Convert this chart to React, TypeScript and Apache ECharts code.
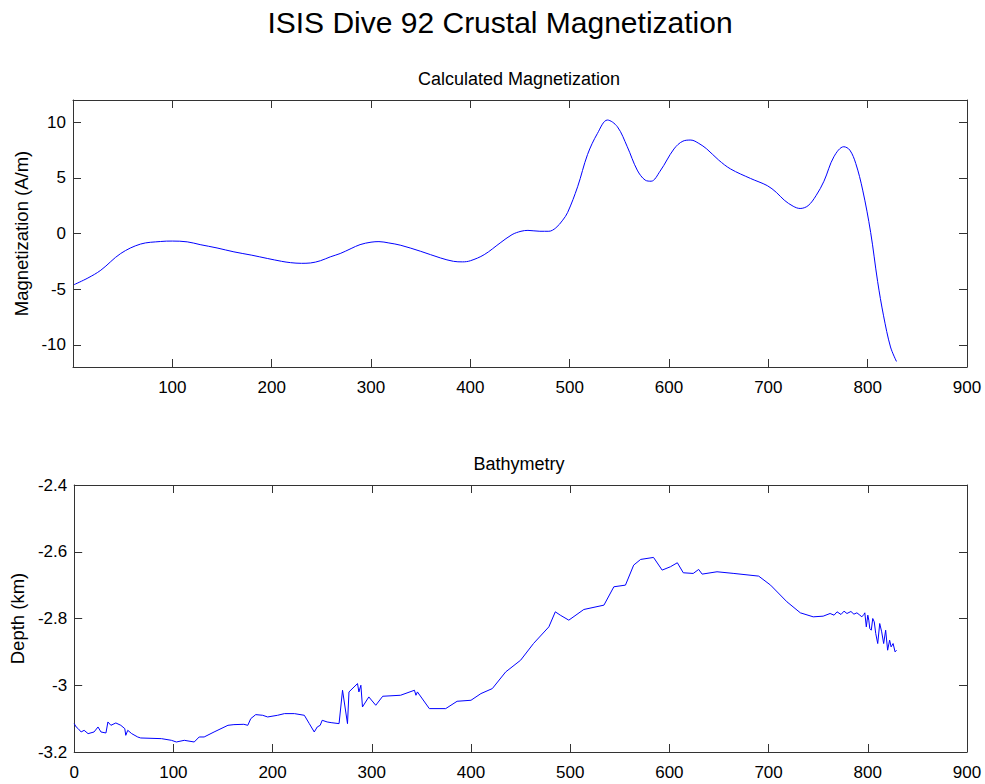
import React, { useEffect, useRef } from "react";
import * as echarts from "echarts";

const mainTitle = "ISIS Dive 92 Crustal Magnetization";
const topTitle = "Calculated Magnetization";
const bottomTitle = "Bathymetry";
const topYLabel = "Magnetization (A/m)";
const bottomYLabel = "Depth (km)";

// Calculated magnetization: distance vs A/m
const magX = [1, 15, 28, 48, 68, 88, 100, 115, 128, 145, 162, 180, 196, 210, 219, 230, 239, 249, 259, 269, 280, 289, 300, 308, 318, 330, 350, 370, 383, 392, 400, 414, 430, 442, 451, 458, 470, 479, 486, 493, 498, 508, 518, 528, 538, 548, 558, 568, 576, 582, 591, 605, 614, 622, 630, 638, 650, 662, 682, 699, 708, 716, 725, 732, 740, 748, 756, 766, 776, 782, 788, 795, 803, 810, 816, 823, 829];
const magY = [-4.6, -4.0, -3.3, -1.8, -0.95, -0.72, -0.68, -0.75, -1.0, -1.3, -1.65, -1.95, -2.25, -2.5, -2.62, -2.68, -2.65, -2.45, -2.1, -1.8, -1.35, -1.0, -0.78, -0.73, -0.85, -1.06, -1.6, -2.2, -2.5, -2.55, -2.45, -1.9, -0.85, -0.1, 0.2, 0.28, 0.2, 0.2, 0.5, 1.2, 1.9, 4.2, 7.1, 9.0, 10.2, 9.6, 7.8, 5.7, 4.8, 4.7, 5.6, 7.6, 8.3, 8.4, 8.1, 7.6, 6.6, 5.8, 4.95, 4.3, 3.7, 3.0, 2.45, 2.25, 2.5, 3.4, 4.7, 6.9, 7.8, 7.5, 6.3, 3.9, 0.1, -4.3, -7.4, -10.2, -11.5];

// Bathymetry: distance vs depth (km)
const bathX = [0, 2, 4, 7, 10, 14, 20, 24, 27, 32, 34, 37, 42, 47, 51, 52, 54, 58, 64, 67, 88, 98, 103, 111, 121, 126, 131, 141, 155, 161, 171, 175, 178, 183, 190, 195, 205, 212, 222, 232, 237, 242, 245, 248, 250, 255, 259, 267, 270.5, 275.5, 277, 285.6, 287, 289, 290.6, 297, 304, 311, 329, 343, 344.5, 346, 358, 374.5, 386, 400, 410, 421.5, 435, 450, 463, 478.5, 485, 490, 498.6, 513.7, 534, 544, 555.7, 564, 571, 584, 592.7, 601, 608, 614, 624, 629.5, 633, 648, 665, 690, 702, 718.5, 732, 745, 755, 762, 766, 769, 773, 776, 779, 783, 786, 789, 792, 794, 796, 797, 798.5, 800, 801, 802, 803.5, 805, 806.5, 808, 810, 812, 814, 816, 818, 820, 822, 823.5, 825.5, 827.5, 829];
const bathY = [-3.115, -3.125, -3.13, -3.14, -3.135, -3.145, -3.14, -3.125, -3.14, -3.143, -3.11, -3.12, -3.113, -3.12, -3.13, -3.15, -3.135, -3.145, -3.155, -3.158, -3.16, -3.165, -3.17, -3.165, -3.17, -3.155, -3.155, -3.14, -3.12, -3.118, -3.117, -3.12, -3.1, -3.088, -3.09, -3.095, -3.09, -3.085, -3.085, -3.09, -3.115, -3.14, -3.125, -3.12, -3.105, -3.11, -3.112, -3.115, -3.015, -3.115, -3.02, -2.995, -3.02, -3.0, -3.065, -3.035, -3.06, -3.033, -3.03, -3.015, -3.03, -3.02, -3.07, -3.07, -3.048, -3.045, -3.025, -3.01, -2.96, -2.925, -2.875, -2.825, -2.78, -2.79, -2.805, -2.773, -2.76, -2.705, -2.7, -2.64, -2.623, -2.617, -2.655, -2.645, -2.633, -2.663, -2.665, -2.653, -2.667, -2.66, -2.665, -2.673, -2.7, -2.75, -2.783, -2.795, -2.793, -2.785, -2.79, -2.78, -2.788, -2.778, -2.785, -2.779, -2.787, -2.783, -2.79, -2.795, -2.788, -2.783, -2.825, -2.79, -2.805, -2.83, -2.835, -2.8, -2.81, -2.845, -2.875, -2.815, -2.84, -2.875, -2.835, -2.895, -2.865, -2.885, -2.875, -2.9, -2.895, -2.905];

const xTicks = { min: 0, max: 900, interval: 100 };
const magRange = { min: -12, max: 12 };
const magTickValues = [-10, -5, 0, 5, 10];
const bathTicks = { min: -3.2, max: -2.4, interval: 0.2 };

const FONT = "'Liberation Sans', Arial, Helvetica, sans-serif";
const AXIS_COLOR = "#333";

export default function App() {
  const ref = useRef<HTMLDivElement>(null);

  useEffect(() => {
    if (!ref.current) return;
    const chart = echarts.init(ref.current, null, { renderer: "svg" });

    const lineStyle = { color: AXIS_COLOR, width: 1 };
    const tick = { show: true, inside: true, length: 8, lineStyle };
    const label = { color: "#000", fontSize: 17, fontFamily: FONT };
    const nameStyle = { color: "#000", fontSize: 18.5, fontFamily: FONT };

    const mkX = (grid: number, pos: "bottom" | "top", showLabels: boolean, hideZero: boolean) => ({
      type: "value",
      gridIndex: grid,
      position: pos,
      min: xTicks.min,
      max: xTicks.max,
      interval: xTicks.interval,
      axisLine: { show: true, onZero: false, lineStyle },
      axisTick: tick,
      splitLine: { show: false },
      axisLabel: {
        show: showLabels,
        margin: 12,
        alignMinLabel: "center",
        alignMaxLabel: "center",
        hideOverlap: false,
        ...label,
        formatter: (v: number) => (hideZero && v === 0 ? "" : String(v)),
      },
    });

    const mkBathY = (pos: "left" | "right", showLabels: boolean, name: string) => ({
      type: "value",
      gridIndex: 1,
      position: pos,
      min: bathTicks.min,
      max: bathTicks.max,
      interval: bathTicks.interval,
      name: name,
      nameLocation: "middle",
      nameGap: 44,
      nameTextStyle: nameStyle,
      axisLine: { show: true, onZero: false, lineStyle },
      axisTick: tick,
      splitLine: { show: false },
      axisLabel: { show: showLabels, margin: 7, ...label },
    });

    const mkMagY = (pos: "left" | "right", showLabels: boolean, name: string) => ({
      type: "value",
      gridIndex: 0,
      position: pos,
      min: magRange.min,
      max: magRange.max,
      name: name,
      nameLocation: "middle",
      nameGap: 39,
      nameTextStyle: nameStyle,
      axisLine: { show: true, onZero: false, lineStyle },
      axisTick: { ...tick, customValues: magTickValues },
      splitLine: { show: false },
      axisLabel: { show: showLabels, margin: 7, ...label, customValues: magTickValues },
    });

    const option: any = {
      animation: false,
      backgroundColor: "#fff",
      title: [
        {
          text: mainTitle,
          left: 500,
          textAlign: "center",
          top: 7,
          padding: 0,
          textStyle: { fontSize: 30, fontWeight: "normal", color: "#000", fontFamily: FONT },
        },
        {
          text: topTitle,
          left: 519,
          textAlign: "center",
          top: 70,
          padding: 0,
          textStyle: { fontSize: 18, fontWeight: "normal", color: "#000", fontFamily: FONT },
        },
        {
          text: bottomTitle,
          left: 519,
          textAlign: "center",
          top: 455,
          padding: 0,
          textStyle: { fontSize: 18, fontWeight: "normal", color: "#000", fontFamily: FONT },
        },
      ],
      grid: [
        { left: 73, width: 894, top: 100, height: 267, containLabel: false },
        { left: 73, width: 894, top: 485, height: 267, containLabel: false },
      ],
      xAxis: [
        mkX(0, "bottom", true, true),
        mkX(0, "top", false, false),
        mkX(1, "bottom", true, false),
        mkX(1, "top", false, false),
      ],
      yAxis: [
        mkMagY("left", true, topYLabel),
        mkMagY("right", false, ""),
        mkBathY("left", true, bottomYLabel),
        mkBathY("right", false, ""),
      ],
      series: [
        {
          type: "line",
          xAxisIndex: 0,
          yAxisIndex: 0,
          data: magX.map((x, i) => [x, magY[i]]),
          smooth: 0.35,
          symbol: "none",
          lineStyle: { color: "#0000ff", width: 1 },
        },
        {
          type: "line",
          xAxisIndex: 2,
          yAxisIndex: 2,
          data: bathX.map((x, i) => [x, bathY[i]]),
          smooth: false,
          symbol: "none",
          lineStyle: { color: "#0000ff", width: 1 },
        },
      ],
    };

    chart.setOption(option);
    return () => chart.dispose();
  }, []);

  return (
    <div
      ref={ref}
      style={{ position: "fixed", left: 0, top: 0, width: 985, height: 784, background: "#fff" }}
    />
  );
}
